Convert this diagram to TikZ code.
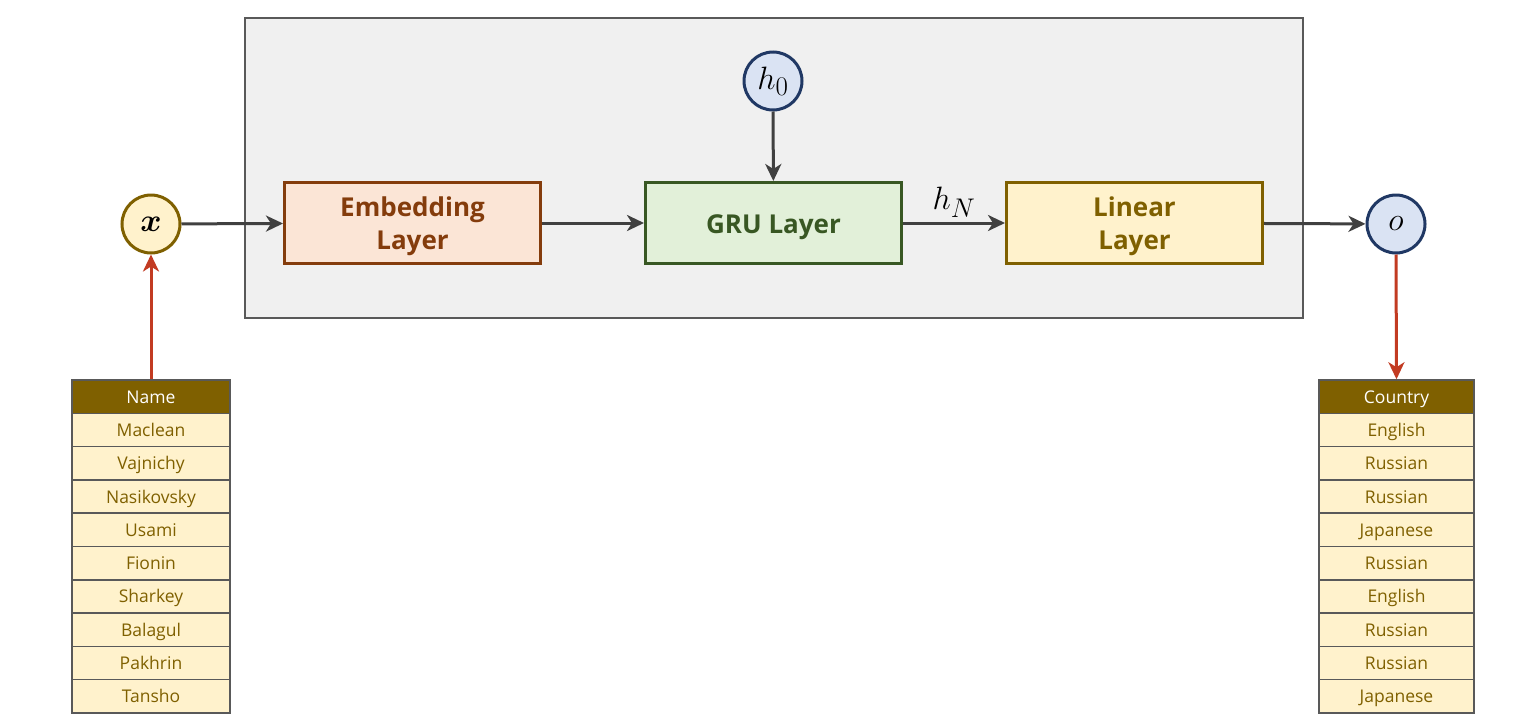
\documentclass[tikz,border=0pt]{standalone}
\usepackage{graphicx}
\usepackage{fontspec}
\setmainfont{Open Sans}
\usepackage{bm}
\usetikzlibrary{arrows.meta}
\definecolor{panelfill}{HTML}{F0F0F0}
\definecolor{panelline}{HTML}{595959}
\definecolor{arrowgray}{HTML}{404040}
\definecolor{redline}{HTML}{C23B22}
\definecolor{embfill}{HTML}{FBE5D6}
\definecolor{embline}{HTML}{843C0C}
\definecolor{grufill}{HTML}{E2F0D9}
\definecolor{gruline}{HTML}{385723}
\definecolor{linfill}{HTML}{FFF2CC}
\definecolor{linline}{HTML}{7F6000}
\definecolor{bluefill}{HTML}{DAE3F3}
\definecolor{blueline}{HTML}{203864}
\newcommand{\bigmath}[1]{\scalebox{1.3}{\Huge$#1$}}
\tikzset{
  panel/.style={draw=panelline, fill=panelfill, line width=1.5pt, minimum width=1058pt, minimum height=300pt},
  layerbox/.style={line width=3pt, minimum width=256pt, minimum height=81pt},
  layertext/.style={align=center, font=\bfseries\fontsize{26}{33}\selectfont},
  embbox/.style={layerbox, draw=embline, fill=embfill},
  grubox/.style={layerbox, draw=gruline, fill=grufill},
  linbox/.style={layerbox, draw=linline, fill=linfill},
  vcirc/.style={circle, line width=3pt, minimum size=58pt, inner sep=0pt},
  xcirc/.style={vcirc, draw=linline, fill=linfill},
  bcirc/.style={vcirc, draw=blueline, fill=bluefill},
  flow/.style={draw=arrowgray, line width=3pt, -{Stealth[length=17pt,width=16pt,inset=5pt]}},
  redflow/.style={draw=redline, line width=3pt, -{Stealth[length=17pt,width=16pt,inset=5pt]}},
  tcell/.style={draw=panelline, line width=1.5pt, fill=linfill, text=linline, minimum height=33.3pt,
    inner sep=0pt, text height=14.5pt, text depth=1.5pt, font=\fontsize{17.5}{20}\selectfont},
  thead/.style={tcell, fill=linline, text=white},
}
\begin{document}
\begin{tikzpicture}[x=1pt, y=-1pt]
\useasboundingbox (0,0) rectangle (1532,723);
\node[panel] (panel) at (774,168) {};
\node[embbox] (emb) at (412.5,223) {};
\node[grubox] (gru) at (773.5,223) {};
\node[linbox] (lin) at (1134.5,223) {};
\node[layertext, text=embline] (embt) at ([yshift=-3pt]emb.center) {Embedding\\Layer};
\node[layertext, text=gruline] (grut) at ([yshift=-4pt]gru.center) {GRU Layer};
\node[layertext, text=linline] (lint) at ([yshift=-3pt]lin.center) {Linear\\Layer};
\node[xcirc] (x) at (151,224) {\bigmath{\bm{x}}};
\node[bcirc] (o) at (1396,224) {\bigmath{o}};
\node[bcirc] (h0) at (773,81) {\bigmath{h_0}};
\draw[flow] (x) -- (emb);
\draw[flow] (emb) -- (gru);
\draw[flow] (gru) -- node[above=1pt] (hN) {\bigmath{h_N}} (lin);
\draw[flow] (lin) -- (o);
\draw[flow] (h0) -- (gru);
% Name table
\node[thead, minimum width=158pt] (n0) at (151,396.65) {Name};
\foreach \t [count=\i] in {Maclean,Vajnichy,Nasikovsky,Usami,Fionin,Sharkey,Balagul,Pakhrin,Tansho}{
  \node[tcell, minimum width=158pt] (n\i) at (151,396.65+33.3*\i) {\t};
}
% Country table
\node[thead, minimum width=155pt] (c0) at (1396.5,396.65) {Country};
\foreach \t [count=\i] in {English,Russian,Russian,Japanese,Russian,English,Russian,Russian,Japanese}{
  \node[tcell, minimum width=155pt] (c\i) at (1396.5,396.65+33.3*\i) {\t};
}
\draw[redflow] (n0.north) -- (x.south);
\draw[redflow] (o.south) -- (c0.north);
\end{tikzpicture}
\end{document}
